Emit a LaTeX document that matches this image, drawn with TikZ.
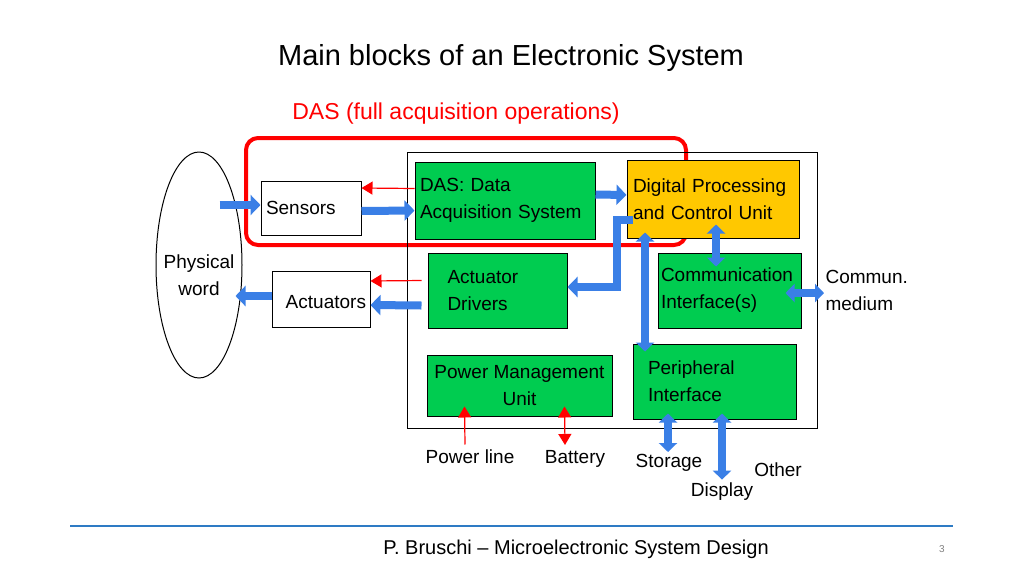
\documentclass[tikz,border=0pt]{standalone}
\usepackage{fontspec}
\setmainfont{Liberation Sans}
\usetikzlibrary{arrows.meta,calc,shapes.geometric}
\definecolor{boxgreen}{HTML}{00CC50}
\definecolor{boxgold}{HTML}{FFC800}
\definecolor{busblue}{HTML}{3A7FE6}
\definecolor{rulerblue}{HTML}{2E7BC4}
\tikzset{
  blk/.style={draw, line width=1pt, fill=boxgreen, inner sep=0pt, align=left,
    font=\fontsize{19}{27}\selectfont},
  wbox/.style={draw, line width=1pt, fill=white, inner sep=0pt,
    font=\fontsize{19}{27}\selectfont},
  lbl/.style={font=\fontsize{19}{27}\selectfont, align=left},
  bus/.style={line width=8pt, draw=busblue, -{Triangle[length=10pt,width=20pt]}},
  dbus/.style={line width=8pt, draw=busblue, {Triangle[length=9pt,width=18pt]}-{Triangle[length=9pt,width=18pt]}},
  sig/.style={red, line width=1.2pt, -{Triangle[length=11pt,width=13pt]}},
  dsig/.style={red, line width=1.2pt, {Triangle[length=11pt,width=13pt]}-{Triangle[length=11pt,width=13pt]}}
}
\begin{document}
\begin{tikzpicture}[x=1pt,y=-1pt]
\useasboundingbox (0,0) rectangle (1024,576);
% titles
\node (title) at (511,58) {\fontsize{29}{34}\selectfont Main blocks of an Electronic System};
\node[red] (dastitle) at (456,114) {\fontsize{23}{28}\selectfont DAS (full acquisition operations)};
% frames
\draw[red, line width=4pt, rounded corners=12pt] (246,138) rectangle (686,245);
\draw[line width=1pt] (407,152) rectangle (817,428);
\node[draw, ellipse, line width=1pt, minimum width=86pt, minimum height=226pt] (world) at (199,265) {};
\node[lbl, align=center] (worldtxt) at (199,275) {Physical\\word};
% blocks
\node[wbox, minimum width=100pt, minimum height=54pt, text width=90pt, align=left] (sens) at (311,208) {Sensors\\[6pt]};
\node[wbox, minimum width=98pt, minimum height=56pt, text width=90pt, align=right] (act) at (321,299) {\\[-8pt]Actuators};
\node[blk, minimum width=180pt, minimum height=77pt, text width=170pt] (das) at (505,200.5) {DAS: Data\\Acquisition System};
\node[blk, fill=boxgold, minimum width=172pt, minimum height=78pt, text width=160pt] (dpcu) at (713,199) {Digital Processing\\and Control Unit\\[8pt]};
\node[blk, minimum width=139pt, minimum height=75pt, text width=100pt, align=left] (drv) at (497.5,290.5) {Actuator\\Drivers};
\node[blk, minimum width=143pt, minimum height=75pt, text width=137pt] (comm) at (729.5,290.5) {Communication\\Interface(s)};
\node[blk, minimum width=185pt, minimum height=61pt, align=center] (pmu) at (519.5,385.5) {Power Management\\Unit};
\node[blk, minimum width=163pt, minimum height=75pt, text width=133pt] (peri) at (714.5,381.5) {Peripheral\\Interface\\[6pt]};
% free labels
\node[lbl, anchor=west] (medium) at (822,290) {Commun.\\medium};
\node[lbl] (pline) at (470,457) {Power line};
\node[lbl] (batt) at (575,459) {Battery};
\node[lbl] (stor) at (669,463) {Storage};
\node[lbl] (other) at (778,470) {Other};
\node[lbl] (disp) at (722,492) {Display};
% red control lines
\draw[sig] ($(das.west)+(0,-12)$) -- ($(sens.east)+(0,-20)$);
\draw[sig] ($(drv.west)+(-6,-10)$) -- ($(act.east)+(0,-18)$);
\draw[sig] ($(pline.north)+(-5,-2)$) -- ($(pmu.south)+(-55,-10)$);
\draw[dsig] ($(pmu.south)+(45,-10)$) -- ($(batt.north)+(-10,-2)$);
% buses
\draw[bus] ($(world.east)+(-23,-60)$) -- (sens.west |- 0,205);
\draw[bus] ($(sens.east)+(0,3)$) -- ($(das.west)+(0,10)$);
\draw[bus] ($(das.east)+(0,-6)$) -- ($(dpcu.west)+(0,-4)$);
\draw[bus] (act.west |- 0,296) -- ($(world.east)+(-7,31)$);
\draw[bus] ($(drv.west)+(-6,15)$) -- (act.east |- 0,305);
\draw[bus] ($(dpcu.west)+(6,21)$) -| (617,287) -- (drv.east |- 0,287);
\draw[dbus] ($(dpcu.south -| 645,0)+(0,-6)$) -- ($(peri.north -| 645,0)+(0,8)$);
\draw[dbus] ($(dpcu.south -| 716,0)+(0,-14)$) -- ($(comm.north -| 716,0)+(0,14)$);
\draw[dbus] ($(comm.east |- 0,293)+(-16,0)$) -- ($(medium.west |- 0,293)+(2,0)$);
\draw[dbus] ($(peri.south -| 668,0)+(0,-6)$) -- (668,452);
\draw[dbus] ($(peri.south -| 722,0)+(0,-6)$) -- (disp.north);
% footer
\draw[rulerblue, line width=2pt] (70,526) coordinate (rl) -- (953,526) coordinate (rr);
\node (foot) at (576,549) {\fontsize{20}{24}\selectfont P. Bruschi -- Microelectronic System Design};
\node[gray] (page) at (942,549) {\fontsize{10}{12}\selectfont 3};
\end{tikzpicture}
\end{document}
